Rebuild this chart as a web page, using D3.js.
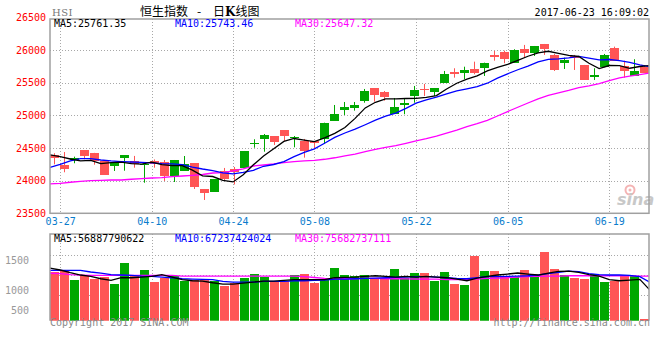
<!DOCTYPE html>
<html><head><meta charset="utf-8">
<script src="https://cdn.jsdelivr.net/npm/d3@7/dist/d3.min.js"></script>
<style>body{margin:0;background:#fff}svg{display:block}</style>
</head><body><svg id="c" width="660" height="360"></svg>
<script>
// ---------- data ----------
const dates = ["03-24","03-27","03-28","03-29","03-30","03-31","04-03","04-05","04-06","04-07",
"04-10","04-11","04-12","04-13","04-18","04-19","04-20","04-21","04-24","04-25",
"04-26","04-27","04-28","05-02","05-04","05-05","05-08","05-09","05-10","05-11",
"05-12","05-15","05-16","05-17","05-18","05-19","05-22","05-23","05-24","05-25",
"05-26","05-29","05-31","06-01","06-02","06-05","06-06","06-07","06-08","06-09",
"06-12","06-13","06-14","06-15","06-16","06-19","06-20","06-21","06-22","06-23"];
const open = [24393,24235,24321,24469,24419,24301,24229,24351,24301,24235,24301,24286,24076,24148,24270,23872,23826,24148,24178,24198,
24567,24638,24683,24775,24668,24607,24607,24638,24913,25086,25117,25219,25418,25357,25020,25178,25300,25408,25357,25500,
25668,25653,25709,25720,25928,25965,25806,26015,25959,26092,25924,25806,25908,25771,25605,25735,26035,25755,25602,25735];
const high = [24419,24438,24367,24469,24425,24305,24266,24388,24378,24260,24324,24316,24316,24377,24270,23872,24025,24194,24209,24454,
24633,24714,24683,24775,24683,24638,24607,24887,25158,25204,25204,25403,25418,25372,25265,25265,25449,25480,25418,25679,
25720,25744,25821,25806,25985,25990,26011,26077,26061,26092,25940,25882,25924,25771,25720,25939,26051,25836,25858,25770];
const low = [24250,24128,24266,24327,24244,24091,24148,24152,24198,23968,24198,23995,23979,24148,23872,23704,23826,23999,23941,24190,
24504,24443,24546,24607,24510,24352,24480,24561,24913,25005,25071,25193,25209,25224,25020,25016,25193,25296,25296,25500,
25576,25552,25628,25602,25836,25797,25806,25882,25908,25924,25679,25709,25694,25541,25541,25735,25832,25576,25602,25653];
const close = [24351,24183,24347,24377,24296,24091,24266,24388,24260,24255,24250,24076,24316,24250,23907,23815,24025,24030,24125,24454,
24577,24699,24591,24683,24675,24459,24572,24887,25020,25128,25158,25372,25316,25285,25127,25185,25388,25388,25418,25633,
25628,25694,25643,25806,25898,25858,26000,25959,26061,26020,25694,25847,25878,25541,25615,25928,25832,25683,25679,25653];
const ma5 = [24393,24367,24331,24301,24311,24259,24275,24284,24260,24252,24284,24246,24231,24229,24160,24073,24063,24005,23980,24090,
24242,24377,24489,24601,24645,24621,24596,24655,24723,24813,24953,25113,25199,25252,25252,25257,25260,25275,25301,25402,
25491,25552,25603,25681,25734,25780,25841,25904,25955,25980,25947,25916,25900,25796,25715,25762,25759,25720,25747,25761];
const ma10 = [24204,24250,24301,24336,24336,24316,24301,24292,24285,24281,24271,24261,24258,24245,24206,24178,24154,24118,24105,24125,
24158,24220,24247,24291,24367,24432,24487,24572,24662,24729,24787,24855,24927,24987,25032,25105,25187,25237,25277,25327,
25374,25406,25439,25491,25568,25635,25697,25754,25818,25857,25863,25879,25902,25876,25847,25854,25838,25810,25772,25743];
const ma30 = [23949,23959,23975,23990,23999,24005,24010,24010,24021,24030,24040,24045,24060,24071,24082,24094,24117,24122,24148,24181,
24224,24239,24255,24275,24290,24301,24311,24327,24350,24378,24405,24445,24477,24508,24535,24572,24609,24642,24681,24727,
24773,24827,24871,24923,24989,25057,25123,25188,25252,25304,25342,25380,25423,25451,25483,25532,25574,25600,25622,25647];
const volume = [1300,1339,1167,1256,1183,1217,1106,1450,1250,1333,1139,1211,1244,1156,1172,1172,1156,1072,1117,1206,
1272,1222,1156,1150,1256,1272,1122,1183,1372,1256,1239,1256,1200,1183,1350,1200,1289,1289,1156,1306,
1106,1089,1572,1322,1322,1222,1222,1339,1256,1639,1350,1256,1206,1189,1267,1139,1156,1250,1239,533];
const vma5 = [1372,1339,1295,1256,1233,1194,1167,1211,1211,1222,1233,1261,1222,1178,1161,1156,1128,1106,1106,1122,
1139,1156,1156,1167,1178,1178,1178,1178,1211,1217,1222,1233,1244,1233,1222,1233,1222,1233,1222,1211,
1189,1161,1206,1233,1256,1272,1289,1272,1256,1289,1317,1322,1300,1261,1239,1178,1161,1172,1183,1005];
const vma10 = [1333,1333,1333,1333,1306,1289,1261,1256,1250,1239,1233,1222,1211,1194,1189,1183,1178,1150,1139,1139,
1139,1150,1150,1150,1161,1161,1167,1172,1189,1189,1194,1200,1206,1211,1217,1222,1228,1228,1222,1211,
1200,1194,1211,1228,1228,1233,1239,1244,1256,1278,1300,1322,1311,1278,1261,1256,1256,1250,1228,1133];
const vma30 = [1285,1280,1262,1255,1250,1250,1250,1250,1250,1250,1250,1250,1250,1239,1239,1239,1239,1239,1239,1239,
1239,1239,1239,1239,1239,1230,1215,1200,1192,1194,1194,1200,1200,1194,1194,1192,1190,1189,1189,1178,
1178,1183,1189,1200,1206,1211,1222,1228,1233,1239,1239,1244,1244,1244,1244,1244,1244,1244,1239,1239];
const priceTicks = [23500,24000,24500,25000,25500,26000,26500];
const volTicks = [500,1000,1500];
const dateTicks = ["03-27","04-10","04-24","05-08","05-22","06-05","06-19"];
const priceLegend = ["MA5:25761.35","MA10:25743.46","MA30:25647.32"];
const volLegend = ["MA5:56887790622","MA10:67237424024","MA30:75682737111"];
const legendColors = ["#000000","#0000ff","#ff00ff"];

// ---------- layout ----------
const N = dates.length;
const L = 50, R = 649, T = 19, B = 213.3;
const VT = 234, VB = 320.7;
const RED = "#ff5555", GREEN = "#00a800", GRID = "#a8a8a8", FRAME = "#a0a0a0";
const MONO = "'DejaVu Sans Mono', 'Liberation Mono', monospace";

const svg = d3.select("#c");
svg.append("rect").attr("width",660).attr("height",360).attr("fill","#fff");

const y = d3.scaleLinear().domain([23500,26500]).range([213.3,17.3]);
const yv = d3.scaleLinear().domain([500,1500]).range([320.6,260.3]);
const xBar = d3.scaleLinear().domain([0,N]).range([50,650]);     // slot left edges (10px)
const xLine = d3.scaleLinear().domain([0,N-1]).range([50,650]);  // line / grid positions
const barW = xBar(1) - xBar(0) - 1;
const col = i => close[i] >= open[i] ? GREEN : RED;
const idx = d3.range(N);
const gridX = dateTicks.map(d => xLine(dates.indexOf(d)));

const defs = svg.append("defs");
defs.append("clipPath").attr("id","cm").append("rect").attr("x",L).attr("y",T).attr("width",R-L).attr("height",B-T);
defs.append("clipPath").attr("id","cv").append("rect").attr("x",L).attr("y",VT).attr("width",R-L).attr("height",VB-VT);

// ---------- main grid ----------
const grid = svg.append("g").attr("stroke",GRID).attr("stroke-dasharray","1,2").attr("shape-rendering","crispEdges");
grid.selectAll("line.h").data(priceTicks.filter(v=>v>23500 && v<26500)).join("line")
  .attr("x1",L).attr("x2",R).attr("y1",d=>Math.round(y(d))+0.5).attr("y2",d=>Math.round(y(d))+0.5);
grid.selectAll("line.v").data(gridX).join("line").attr("class","v")
  .attr("x1",d=>Math.round(d)+0.5).attr("x2",d=>Math.round(d)+0.5).attr("y1",T).attr("y2",B);

// watermark
const wm = svg.append("g");
wm.append("circle").attr("cx",630).attr("cy",190).attr("r",4.5).attr("fill","none").attr("stroke","#f4b4b4").attr("stroke-width",2);
wm.append("circle").attr("cx",630).attr("cy",190).attr("r",1.5).attr("fill","#f4b4b4");
wm.append("text").attr("x",617).attr("y",205).attr("font-family","'DejaVu Sans', sans-serif").attr("font-style","italic")
  .attr("font-weight","bold").attr("font-size",16).attr("fill","#c8c8c8").text("sina");

// ---------- candles ----------
const cg = svg.append("g").attr("clip-path","url(#cm)");
cg.selectAll("line.w").data(idx).join("line")
  .attr("x1",i=>xBar(i)+barW/2).attr("x2",i=>xBar(i)+barW/2)
  .attr("y1",i=>y(high[i])).attr("y2",i=>y(low[i]))
  .attr("stroke",col).attr("stroke-width",1);
cg.selectAll("rect.b").data(idx).join("rect")
  .attr("x",i=>xBar(i)).attr("width",barW)
  .attr("y",i=>y(Math.max(open[i],close[i])))
  .attr("height",i=>Math.max(1.5,Math.abs(y(open[i])-y(close[i]))))
  .attr("fill",col).attr("shape-rendering","crispEdges");

const lineMain = d3.line().x((d,i)=>xLine(i)).y(d=>y(d));
[[ma30,"#ff00ff"],[ma10,"#0000ff"],[ma5,"#000000"]].forEach(([arr,c])=>{
  cg.append("path").attr("d",lineMain(arr)).attr("fill","none").attr("stroke",c).attr("stroke-width",1.3);
});

// frame
const fr = svg.append("g").attr("stroke",FRAME).attr("stroke-width",1.5).attr("fill","none");
fr.append("rect").attr("x",L).attr("y",T).attr("width",R-L).attr("height",B-T);

// y axis (price)
const ya = svg.append("g").attr("transform",`translate(${L},0)`)
  .call(d3.axisLeft(y).tickValues(priceTicks).tickSize(0).tickPadding(4).tickFormat(d3.format("d")));
ya.select(".domain").remove();
ya.selectAll("text").attr("fill","#f00").attr("font-family",MONO).attr("font-size",10);

// x axis (dates)
const xa = svg.append("g").attr("transform",`translate(0,${B})`)
  .call(d3.axisBottom(xLine).tickValues(dateTicks.map(d=>dates.indexOf(d))).tickSize(0).tickPadding(5).tickFormat(i=>dates[i]));
xa.select(".domain").remove();
xa.selectAll("text").attr("fill","#0a7ccc").attr("font-family",MONO).attr("font-size",10);

// legends
const legX = [54,175,295];
svg.selectAll("text.pl").data(priceLegend).join("text").attr("class","pl")
  .attr("x",(d,i)=>legX[i]).attr("y",27).attr("fill",(d,i)=>legendColors[i])
  .attr("font-family",MONO).attr("font-size",10).text(d=>d);

// title
svg.append("text").attr("x",52).attr("y",16).attr("font-family","'DejaVu Serif', 'Liberation Serif', serif")
  .attr("font-size",10).attr("fill","#777").attr("letter-spacing","0.5").text("HSI");
const tt = svg.append("text").attr("y",16).attr("font-family","'Noto Sans CJK SC', sans-serif").attr("font-size",12).attr("fill","#000");
tt.append("tspan").attr("x",140).text("恒生指数");
tt.append("tspan").attr("x",197).text("-");
tt.append("tspan").attr("x",213).text("日");
tt.append("tspan").attr("font-weight","bold").attr("font-family","'DejaVu Serif', serif").text("K");
tt.append("tspan").text("线图");
svg.append("text").attr("x",649).attr("y",16).attr("text-anchor","end").attr("font-family",MONO)
  .attr("font-size",10).attr("fill","#000").text("2017-06-23 16:09:02");

// ---------- volume panel ----------
const vgrid = svg.append("g").attr("stroke",GRID).attr("stroke-dasharray","1,2").attr("shape-rendering","crispEdges");
vgrid.selectAll("line.h").data([255.5,275.5,295.5]).join("line")
  .attr("x1",L).attr("x2",R).attr("y1",d=>d).attr("y2",d=>d);
vgrid.selectAll("line.v").data(gridX).join("line").attr("class","v")
  .attr("x1",d=>Math.round(d)+0.5).attr("x2",d=>Math.round(d)+0.5).attr("y1",VT).attr("y2",VB);

const vg = svg.append("g").attr("clip-path","url(#cv)");
vg.selectAll("rect").data(idx).join("rect")
  .attr("x",i=>xBar(i)).attr("width",barW)
  .attr("y",i=>yv(volume[i])).attr("height",i=>yv(500)-yv(volume[i]))
  .attr("fill",col).attr("shape-rendering","crispEdges");
const lineVol = d3.line().x((d,i)=>xLine(i)).y(d=>yv(d));
[[vma30,"#ff00ff"],[vma10,"#0000ff"],[vma5,"#000000"]].forEach(([arr,c])=>{
  vg.append("path").attr("d",lineVol(arr)).attr("fill","none").attr("stroke",c).attr("stroke-width",1.3);
});
const vfr = svg.append("g").attr("stroke",FRAME).attr("stroke-width",1.5).attr("fill","none");
vfr.append("path").attr("d",`M${L},${VB}V${VT}H${R}V${VB}`);

const va = svg.append("g").attr("transform",`translate(29,0)`)
  .call(d3.axisLeft(yv).tickValues(volTicks).tickSize(0).tickPadding(0).tickFormat(d3.format("d")));
va.select(".domain").remove();
va.selectAll("text").attr("fill","#999").attr("font-family",MONO).attr("font-size",10)
  .attr("dy",d=>d===500?"-0.7em":"0.32em");

svg.selectAll("text.vl").data(volLegend).join("text").attr("class","vl")
  .attr("x",(d,i)=>legX[i]).attr("y",242).attr("fill",(d,i)=>legendColors[i])
  .attr("font-family",MONO).attr("font-size",10).text(d=>d);

svg.append("text").attr("x",50).attr("y",326).attr("font-family",MONO).attr("font-size",10).attr("fill","#888")
  .text("Copyright 2017 SINA.COM");
svg.append("text").attr("x",650).attr("y",326).attr("text-anchor","end").attr("font-family",MONO).attr("font-size",10).attr("fill","#888")
  .text("http://finance.sina.com.cn");
</script></body></html>
